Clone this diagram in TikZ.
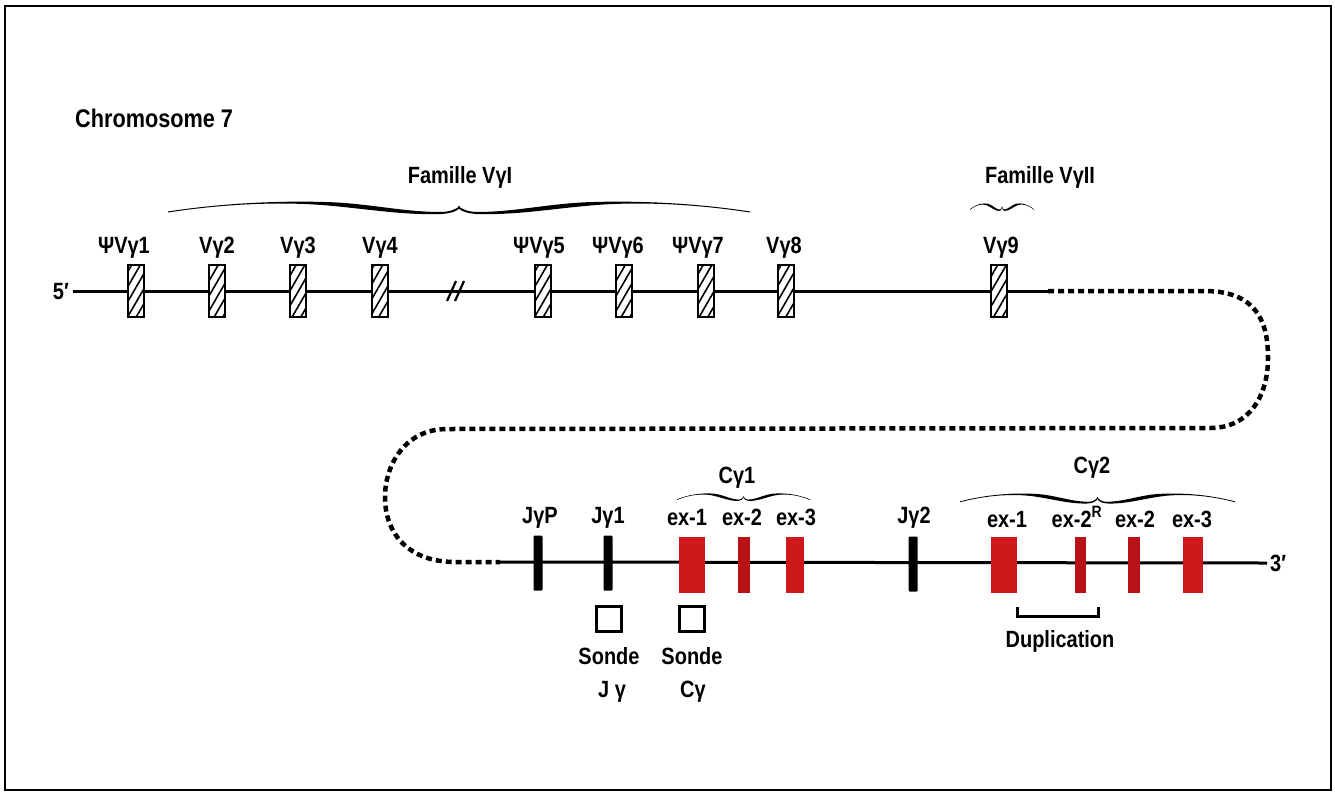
\documentclass[tikz,border=0pt]{standalone}
\usepackage{fontspec}
\setmainfont[FakeStretch=0.85]{Liberation Sans}
\usetikzlibrary{patterns.meta}
\definecolor{exred}{RGB}{205,24,28}
\definecolor{exdark}{RGB}{182,18,24}
\newcommand\bracehalfdraw{%
  \fill (0,0.05) .. controls (0.2,-0.85) and (0.4,-1.05) .. (0.56,-0.88)
    .. controls (0.7,-0.7) and (0.8,0.05) .. (0.93,0.1)
    .. controls (0.97,0.12) and (0.99,-0.2) .. (1.003,-0.5)
    -- (1.003,-0.3) .. controls (0.99,0.05) and (0.97,0.3) .. (0.92,0.32)
    .. controls (0.78,0.34) and (0.68,-0.25) .. (0.52,-0.62)
    .. controls (0.38,-0.9) and (0.2,-0.75) .. (0,0.15) -- cycle;}
\newcommand\calbrace[4]{%
  \pgfmathsetmacro\cbw{(#2-#1)/2}%
  \begin{scope}[shift={(#1,#3)},xscale=\cbw,yscale=#4]\bracehalfdraw\end{scope}%
  \begin{scope}[shift={(#2,#3)},xscale=-\cbw,yscale=#4]\bracehalfdraw\end{scope}}
\begin{document}
\begin{tikzpicture}[x=1pt,y=-1pt,
  lbl/.style={font=\fontsize{23.5}{26}\selectfont\bfseries, anchor=base, inner sep=0pt},
  vgene/.style={draw, line width=2.2pt, minimum width=16pt, minimum height=52pt, inner sep=0pt,
    preaction={fill=white}, pattern={Lines[angle=60,distance=7.5pt,line width=1.6pt]}},
  jseg/.style={fill=black, minimum width=9pt, minimum height=55pt, inner sep=0pt, rounded corners=1pt},
  cex/.style={fill=exred, minimum height=56pt, inner sep=0pt},
  probe/.style={draw, line width=2.2pt, minimum size=25pt, inner sep=0pt},
  chrom/.style={line width=3pt},
  dotline/.style={line width=4.5pt, dash pattern=on 6pt off 4pt}]
\useasboundingbox (0,0) rectangle (1335,793);
\draw[line width=2.2pt] (5,6) rectangle (1331,790);

% chromosome lines
\coordinate (top5) at (73,291);
\coordinate (topend) at (1048,291);
\coordinate (botstart) at (500,562);
\coordinate (bot3) at (1267,563);
\draw[chrom] (top5) -- (topend);
\draw[dotline] (topend) -- (1205,291) .. controls (1262,291) and (1268,330) .. (1268,358)
  .. controls (1268,395) and (1250,428) .. (1210,428) -- (447,429)
  .. controls (405,429) and (385,465) .. (385,497)
  .. controls (385,535) and (410,562) .. (455,562) -- (botstart);
\draw[chrom] (botstart) -- (bot3);
\draw[line width=2.2pt] (447,301) -- (456,281) (455,301) -- (464,281);

% title
\node[font=\fontsize{25.5}{28}\selectfont\bfseries, anchor=base west, inner sep=0pt] (chr) at (75,127) {Chromosome 7};

% V genes
\node[vgene] (v1) at (136,291) {};
\node[vgene] (v2) at (217,291) {};
\node[vgene] (v3) at (298,291) {};
\node[vgene] (v4) at (380,291) {};
\node[vgene] (v5) at (543,291) {};
\node[vgene] (v6) at (624,291) {};
\node[vgene] (v7) at (706,291) {};
\node[vgene] (v8) at (786,291) {};
\node[vgene] (v9) at (999,291) {};

\node[lbl] (lv1) at (124,253) {ΨVγ1};
\node[lbl] (lv2) at (217,253) {Vγ2};
\node[lbl] (lv3) at (298,253) {Vγ3};
\node[lbl] (lv4) at (380,253) {Vγ4};
\node[lbl] (lv5) at (539,253) {ΨVγ5};
\node[lbl] (lv6) at (618,253) {ΨVγ6};
\node[lbl] (lv7) at (698,253) {ΨVγ7};
\node[lbl] (lv8) at (784,253) {Vγ8};
\node[lbl] (lv9) at (1001,253) {Vγ9};
\node[lbl, anchor=base east] (five) at (69,299) {5′};
\node[lbl, anchor=base west] (three) at (1270,571) {3′};

% families
\node[lbl] (famI) at (460,183) {Famille VγI};
\node[lbl] (famII) at (1040,183) {Famille VγII};
\calbrace{168}{750}{211}{10}
\calbrace{970}{1034}{209}{6}

% J segments
\node[jseg] (jp) at (538,563) {};
\node[jseg] (j1) at (608,563) {};
\node[jseg] (j2) at (913,564) {};
\node[lbl] (ljp) at (540,523) {JγP};
\node[lbl] (lj1) at (608,523) {Jγ1};
\node[lbl] (lj2) at (914,523) {Jγ2};

% C gamma 1
\node[cex, minimum width=26pt] (c1e1) at (692,565) {};
\node[cex, fill=exdark, minimum width=12pt] (c1e2) at (744,565) {};
\node[cex, minimum width=18pt] (c1e3) at (795,565) {};
\node[lbl] (lc1) at (737,483) {Cγ1};
\calbrace{677}{810}{499}{6}
\node[lbl] (lc1e1) at (687,525) {ex-1};
\node[lbl] (lc1e2) at (742,525) {ex-2};
\node[lbl] (lc1e3) at (796,525) {ex-3};

% C gamma 2
\node[cex, minimum width=26pt] (c2e1) at (1004,565) {};
\node[cex, fill=exdark, minimum width=11pt] (c2e2r) at (1080,565) {};
\node[cex, fill=exdark, minimum width=12pt] (c2e2) at (1134,565) {};
\node[cex, minimum width=20pt] (c2e3) at (1193,565) {};
\node[lbl] (lc2) at (1092,473) {Cγ2};
\calbrace{960}{1235}{501}{8}
\node[lbl] (lc2e1) at (1007,527) {ex-1};
\node[lbl] (lc2e2r) at (1077,527) {ex-2\textsuperscript{R}};
\node[lbl] (lc2e2) at (1135,527) {ex-2};
\node[lbl] (lc2e3) at (1192,527) {ex-3};

% duplication
\coordinate (dupL) at (1017,607);
\coordinate (dupR) at (1098,607);
\draw[line width=3pt] (dupL) -- ++(0,9) -| (dupR);
\node[lbl] (dup) at (1060,647) {Duplication};

% probes
\node[probe] (pj) at (609,619) {};
\node[probe] (pc) at (692,619) {};
\node[lbl] (sj) at (609,664) {Sonde};
\node[lbl] (sjl) at (612,697) {J γ};
\node[lbl] (sc) at (692,664) {Sonde};
\node[lbl] (scl) at (693,697) {Cγ};
\end{tikzpicture}
\end{document}
